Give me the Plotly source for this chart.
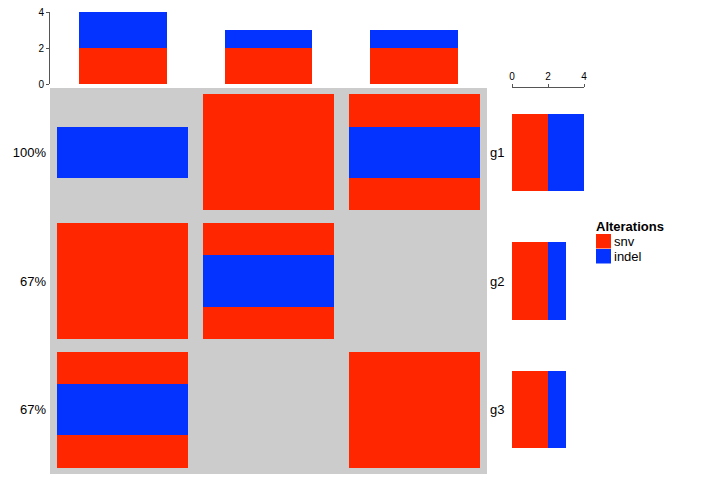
import plotly.graph_objects as go

# ---- data ----
samples = ["s1", "s2", "s3"]
genes = ["g1", "g2", "g3"]
pct_labels = ["100%", "67%", "67%"]
# alteration matrix: rows = genes, cols = samples
snv_mat = [[0, 1, 1],
           [1, 1, 0],
           [1, 0, 1]]
indel_mat = [[1, 0, 1],
             [0, 1, 0],
             [1, 0, 0]]
col_snv = [2, 2, 2]
col_indel = [2, 1, 1]
row_snv = [2, 2, 2]
row_indel = [2, 1, 1]
axis_ticks = [0, 2, 4]
legend_title = "Alterations"
legend_labels = ["snv", "indel"]

RED = "#FF2600"
BLUE = "#0433FF"
GREY = "#CCCCCC"
W, H = 716, 481
FONT = "Arial, Liberation Sans, sans-serif"

fig = go.Figure()

ncol = len(samples)
nrow = len(genes)

# grey background of heatmap
fig.add_trace(go.Bar(x=list(range(ncol)), y=[nrow] * ncol, base=[-0.5] * ncol, width=1,
                     marker=dict(color=GREY, line=dict(width=0)), showlegend=False,
                     hoverinfo="skip", xaxis="x", yaxis="y"))

# snv cells
sx, sb = [], []
for r in range(nrow):
    for c in range(ncol):
        if snv_mat[r][c]:
            sx.append(c); sb.append(r - 0.45)
fig.add_trace(go.Bar(x=sx, y=[0.9] * len(sx), base=sb, width=0.9, name="snv", showlegend=False,
                     marker=dict(color=RED, line=dict(width=0)), xaxis="x", yaxis="y"))
ix, ib = [], []
for r in range(nrow):
    for c in range(ncol):
        if indel_mat[r][c]:
            ix.append(c); ib.append(r - 0.2)
fig.add_trace(go.Bar(x=ix, y=[0.4] * len(ix), base=ib, width=0.9, name="indel", showlegend=False,
                     marker=dict(color=BLUE, line=dict(width=0)), xaxis="x", yaxis="y"))

# top barplot
fig.add_trace(go.Bar(x=list(range(ncol)), y=col_snv, width=0.6, showlegend=False,
                     marker=dict(color=RED, line=dict(width=0)), xaxis="x2", yaxis="y2"))
fig.add_trace(go.Bar(x=list(range(ncol)), y=col_indel, base=col_snv, width=0.6, showlegend=False,
                     marker=dict(color=BLUE, line=dict(width=0)), xaxis="x2", yaxis="y2"))

# right barplot
fig.add_trace(go.Bar(y=list(range(nrow)), x=row_snv, width=0.6, orientation="h", showlegend=False,
                     marker=dict(color=RED, line=dict(width=0)), xaxis="x3", yaxis="y3"))
fig.add_trace(go.Bar(y=list(range(nrow)), x=row_indel, base=row_snv, width=0.6, orientation="h",
                     showlegend=False, marker=dict(color=BLUE, line=dict(width=0)),
                     xaxis="x3", yaxis="y3"))

# dummy for gene label axis
fig.add_trace(go.Scatter(x=[None], y=[None], xaxis="x", yaxis="y4", showlegend=False,
                         hoverinfo="skip"))

xd = [50 / W, 487 / W]
yd = [7 / H, 393 / H]
fig.update_layout(
    width=W, height=H, margin=dict(l=0, r=0, t=0, b=0, autoexpand=False),
    paper_bgcolor="white", plot_bgcolor="white",
    barmode="overlay", bargap=0, showlegend=False,
    font=dict(family=FONT, size=13, color="black"),
    xaxis=dict(domain=xd, range=[-0.5, ncol - 0.5], visible=False, anchor="y", fixedrange=True),
    yaxis=dict(domain=yd, range=[nrow - 0.5, -0.5], tickvals=list(range(nrow)), ticktext=pct_labels,
               showgrid=False, zeroline=False, showline=False, ticks="", anchor="x",
               automargin=False, tickfont=dict(size=13), ticklabelstandoff=3),
    yaxis4=dict(overlaying="y", side="right", range=[nrow - 0.5, -0.5], tickvals=list(range(nrow)),
                ticktext=genes, showgrid=False, zeroline=False, showline=False, ticks="",
                anchor="x", automargin=False, tickfont=dict(size=13), ticklabelstandoff=2),
    xaxis2=dict(domain=xd, range=[-0.5, ncol - 0.5], visible=False, anchor="y2"),
    yaxis2=dict(domain=[397 / H, 469 / H], range=[0, 4], tickvals=axis_ticks, showgrid=False,
                zeroline=False, showline=True, linecolor="#555555", linewidth=1, ticks="outside",
                ticklen=3, tickcolor="#555555", tickfont=dict(size=10), anchor="x2",
                automargin=False),
    xaxis3=dict(domain=[512 / W, 584 / W], range=[0, 4], tickvals=axis_ticks, side="top",
                showgrid=False, zeroline=False, showline=True, linecolor="#555555", linewidth=1,
                ticks="outside", ticklen=3, tickcolor="#555555", tickfont=dict(size=10), anchor="y3",
                automargin=False),
    yaxis3=dict(domain=yd, range=[nrow - 0.5, -0.5], visible=False, anchor="x3"),
)

# custom legend (ComplexHeatmap style)
lx0, lx1 = 596 / W, 611 / W
fig.add_annotation(x=lx0, y=(H - 217) / H, xref="paper", yref="paper", xanchor="left",
                   yanchor="top", text="<b>" + legend_title + "</b>", showarrow=False,
                   font=dict(size=13), xshift=-2)
for i, (lab, colr) in enumerate(zip(legend_labels, [RED, BLUE])):
    top = 234 + 15 * i
    fig.add_shape(type="rect", xref="paper", yref="paper", x0=lx0, x1=lx1,
                  y0=(H - top - 14.5) / H, y1=(H - top) / H,
                  fillcolor=colr, line=dict(width=0))
    fig.add_annotation(x=612 / W, y=(H - top - 7) / H, xref="paper", yref="paper",
                       xanchor="left", yanchor="middle", text=lab, showarrow=False,
                       font=dict(size=13))

fig.write_html("out.html", config={"displayModeBar": False},
               post_script="document.body.style.margin='0px';")
